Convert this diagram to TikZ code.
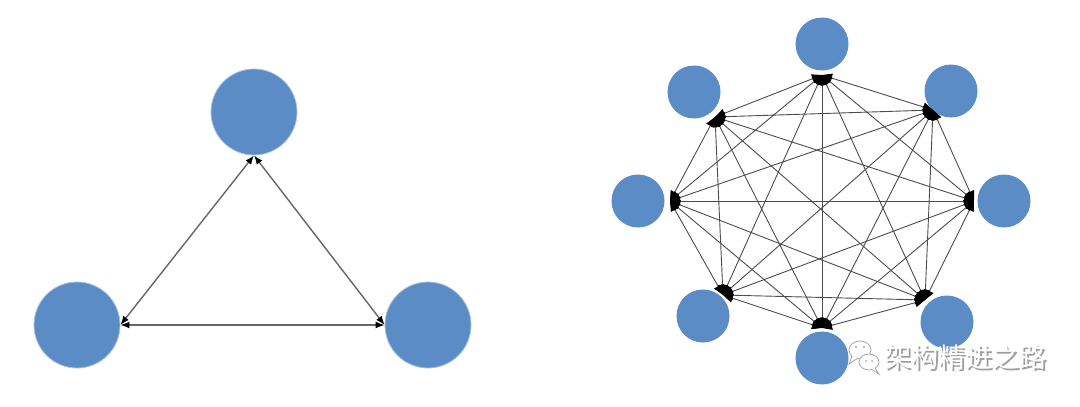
\documentclass[tikz,border=0pt]{standalone}
\usepackage{fontspec}
\newfontfamily\cjk{Noto Sans CJK SC}
\usetikzlibrary{arrows.meta}
\definecolor{nodeblue}{RGB}{91,140,198}
\begin{document}
\begin{tikzpicture}[x=1pt,y=-1pt,
  bignode/.style={circle, fill=nodeblue, draw=nodeblue!55!white, line width=0.8pt, minimum size=86pt, inner sep=0pt},
  smallnode/.style={circle, fill=nodeblue, draw=none, minimum size=53pt, inner sep=0pt},
  biarrow/.style={draw=gray!80!black, line width=1.4pt, {Latex[length=9pt,width=7pt,black]}-{Latex[length=9pt,width=7pt,black]}},
  meshline/.style={draw=black!70, line width=0.9pt, {Triangle[length=10pt,width=9pt,black]}-{Triangle[length=10pt,width=9pt,black]}},
  bubble/.style={fill=white, draw=gray!70, line width=0.8pt},
  wmtext/.style={anchor=west, inner sep=0pt, font=\cjk\fontsize{27}{27}\selectfont}
]
\useasboundingbox (0,0) rectangle (1080,407);
% left triangle
\node[bignode] (A) at (254,112) {};
\node[bignode] (B) at (77,325) {};
\node[bignode] (C) at (428,325) {};
\draw[biarrow] (A.south) -- (B.east);
\draw[biarrow] (A.south) -- (C.west);
\draw[biarrow] (B.east) -- (C.west);
% right full mesh
\node[smallnode] (c0) at (822,44) {};
\node[smallnode] (c1) at (951,91) {};
\node[smallnode] (c2) at (1004,201) {};
\node[smallnode] (c3) at (947,322) {};
\node[smallnode] (c4) at (822,358) {};
\node[smallnode] (c5) at (703,316) {};
\node[smallnode] (c6) at (638,201) {};
\node[smallnode] (c7) at (694,92) {};
\coordinate (p0) at (822,75);
\coordinate (p1) at (933,110);
\coordinate (p2) at (974,201);
\coordinate (p3) at (925,300);
\coordinate (p4) at (822,328);
\coordinate (p5) at (723,295);
\coordinate (p6) at (670,201);
\coordinate (p7) at (715,117);
\foreach \i [evaluate=\i as \s using int(\i+1)] in {0,...,6}
  \foreach \j in {\s,...,7}
    \draw[meshline] (p\i) -- (p\j);
% watermark
\draw[bubble] (860,350) ellipse [x radius=11, y radius=9];
\draw[bubble] (852,356) -- (849,364) -- (858,358);
\draw[bubble] (869,362) ellipse [x radius=10, y radius=8];
\draw[bubble] (875,368) -- (879,374) -- (871,369);
\fill[gray!70] (856,347) circle (1.2) (864,347) circle (1.2) (866,361) circle (1) (872,361) circle (1);
\node[wmtext, text=gray!75] (wms) at (885.8,358.8) {架构精进之路};
\node[wmtext, text=white] (wm) at (884.5,357.5) {架构精进之路};
\end{tikzpicture}
\end{document}
